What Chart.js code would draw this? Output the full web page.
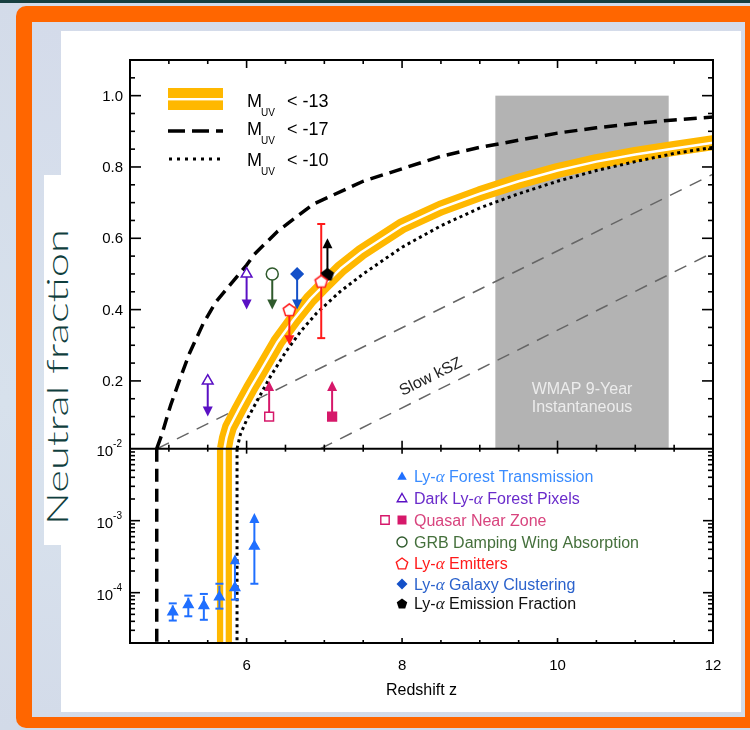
<!DOCTYPE html>
<html>
<head>
<meta charset="utf-8">
<title>Neutral fraction vs redshift</title>
<script src="https://cdn.jsdelivr.net/npm/chart.js@4.4.1/dist/chart.umd.min.js"></script>
<style>
  html, body { margin:0; padding:0; }
  body { width:750px; height:730px; overflow:hidden; position:relative;
         background:linear-gradient(180deg,#d3dbe9 0%,#d7e1ec 55%,#d2dae8 100%); }
  #topbar { position:absolute; left:0; top:0; width:750px; height:3px; background:#173f40; }
  #frame { position:absolute; left:16px; top:6px; width:760px; height:722px; background:#ff6600; border-radius:10px; }
  #inner { position:absolute; left:32px; top:22px; width:713px; height:695px;
           background:linear-gradient(180deg,#d4dbea 0%,#d9e3ee 60%,#d3dbe9 100%); }
  #sheet { position:absolute; left:61px; top:31px; width:680px; height:681px; background:#fff; }
  #tab { position:absolute; left:44px; top:175px; width:17px; height:370px; background:#fff; }
  #ylab { position:absolute; left:56px; top:377px; transform:translate(-50%,-50%) rotate(-90deg) scaleX(1.45);
          white-space:nowrap; font:300 30px Lato, "Open Sans", sans-serif; color:#0f3e3d; }
  #c { position:absolute; left:61px; top:31px; }
</style>
</head>
<body>
<div id="topbar"></div>
<div id="frame"></div>
<div id="inner"></div>
<div id="sheet"></div>
<div id="tab"></div>
<div id="ylab">Neutral fraction</div>
<canvas id="c" width="680" height="681"></canvas>
<script>
// ---------------- axes -----------------------------------------------------
const zMin = 4.5, zMax = 12;
const zLabelTicks = [6, 8, 10, 12];
const linLabelTicks = [0.2, 0.4, 0.6, 0.8, 1.0];
const logLabelTicks = [1e-2, 1e-3, 1e-4];
const logLabelExps = ['-2', '-3', '-4'];

// ---------------- model reionization histories ----------------------------
// M_UV < -13 (shaded band)
const m13Z = [5.715, 5.74, 5.78, 5.9, 6.05, 6.2, 6.4, 6.6, 6.82, 7.0, 7.21, 7.47, 8.0, 8.5, 9.0, 9.5, 10.0, 10.5, 11.0, 11.5, 12.0];
const m13Q = [0.01, 0.04, 0.07, 0.12, 0.18, 0.235, 0.31, 0.37, 0.43, 0.47, 0.515, 0.56, 0.635, 0.685, 0.725, 0.76, 0.79, 0.815, 0.835, 0.852, 0.868];
const m13LowZ = [5.715, 5.715];
const m13LowQ = [0.0102, 1e-5];
// M_UV < -17 (dashed)
const m17Z = [4.844, 4.91, 5.02, 5.15, 5.27, 5.44, 5.6, 5.79, 6.0, 6.1, 6.4, 6.86, 7.5, 8.0, 8.5, 9.0, 9.5, 10.0, 10.5, 11.0, 11.5, 12.0];
const m17Q = [0.01, 0.05, 0.13, 0.21, 0.28, 0.36, 0.42, 0.47, 0.525, 0.555, 0.62, 0.696, 0.76, 0.795, 0.83, 0.855, 0.875, 0.895, 0.91, 0.922, 0.932, 0.94];
const m17LowZ = [4.844, 4.844];
const m17LowQ = [0.01, 1e-5];
// M_UV < -10 (dotted)
const m10Z = [5.877, 5.92, 6.0, 6.15, 6.3, 6.5, 6.7, 6.9, 7.2, 7.5, 8.0, 8.5, 9.0, 9.5, 10.0, 10.5, 11.0, 11.5, 12.0];
const m10Q = [0.01, 0.05, 0.09, 0.15, 0.21, 0.28, 0.34, 0.39, 0.45, 0.5, 0.575, 0.635, 0.685, 0.725, 0.76, 0.79, 0.815, 0.838, 0.855];
const m10LowZ = [5.877, 5.877];
const m10LowQ = [0.01, 1e-5];

// slow kSZ bounds
const kszAZ = [4.85, 12], kszAQ = [0.01, 0.78];
const kszBZ = [6.95, 12], kszBQ = [0.01, 0.56];

// WMAP 9-year instantaneous reionization range
const wmapZ = [9.2, 11.43];
const wmapQ = [0.01, 1.0];

// ---------------- observational constraints -------------------------------
const forestZ  = [5.05, 5.25, 5.45, 5.65, 5.85, 6.10];
const forestQ  = [5.4e-5, 6.8e-5, 6.6e-5, 8.7e-5, 1.17e-4, 4.4e-4];
const forestHi = [7.1e-5, 9.1e-5, 9.6e-5, 1.33e-4, 3.2e-4, 1.2e-3];
const forestLo = [4.1e-5, 4.7e-5, 4.2e-5, 6.0e-5, 8.0e-5, 1.33e-4];

const darkPixZ = [5.5, 6.0];
const darkPixQ = [0.20, 0.50];
const darkPixLim = [0.10, 0.40];

const qsoOpenZ = [6.29], qsoOpenQ = [0.10], qsoOpenLim = [0.20];
const qsoFillZ = [7.1],  qsoFillQ = [0.10], qsoFillLim = [0.20];

const grbZ = [6.33], grbQ = [0.50], grbLim = [0.40];

const laeZ = [6.55, 6.96];
const laeQ = [0.40, 0.48];
const laeLim = [0.30, null];
const laeLo = [null, 0.32];
const laeHi = [null, 0.64];

const clusterZ = [6.65], clusterQ = [0.50], clusterLim = [0.40];

const emFracZ = [7.04], emFracQ = [0.50], emFracLim = [0.60];

const legendNames = ['Forest Transmission', 'Dark Ly-', 'Quasar Near Zone', 'GRB Damping Wing Absorption', 'Emitters', 'Galaxy Clustering', 'Emission Fraction'];

// ---------------- styling -------------------------------------------------
const SANS = '"Liberation Sans", Arial, Helvetica, sans-serif';
const ORANGE = '#ffb800';
const C_FOREST = '#1f6fff', T_FOREST = '#3a8cff';
const C_PURPLE = '#5a10c4', T_PURPLE = '#6a2ccb';
const C_QSO = '#d6186a', T_QSO = '#d8447e';
const C_GRB = '#2f5a2c', T_GRB = '#45703c';
const C_LAE = '#ff1a1a';
const C_CLUS = '#1450c8', T_CLUS = '#2b62cc';
const C_EMF = '#000000';

function pts(xs, ys) { return xs.map((x, i) => ({ x, y: ys[i] })); }

function shapePath(ctx, kind, x, y, r) {
  ctx.beginPath();
  if (kind === 'triangle' || kind === 'pentagon') {
    const n = kind === 'triangle' ? 3 : 5;
    for (let i = 0; i < n; i++) {
      const a = -Math.PI / 2 + i * 2 * Math.PI / n;
      const px = x + r * Math.cos(a), py = y + r * Math.sin(a);
      if (i) ctx.lineTo(px, py); else ctx.moveTo(px, py);
    }
    ctx.closePath();
  } else if (kind === 'square') {
    ctx.rect(x - r, y - r, 2 * r, 2 * r);
  } else if (kind === 'diamond') {
    ctx.moveTo(x, y - r); ctx.lineTo(x + r, y); ctx.lineTo(x, y + r); ctx.lineTo(x - r, y); ctx.closePath();
  } else {
    ctx.arc(x, y, r, 0, Math.PI * 2);
  }
}
function shape(ctx, kind, x, y, r, stroke, fill, lw) {
  shapePath(ctx, kind, x, y, r);
  if (fill) { ctx.fillStyle = fill; ctx.fill(); }
  if (stroke) { ctx.lineWidth = lw || 1.5; ctx.strokeStyle = stroke; ctx.stroke(); }
}
function sprite(kind, r, stroke, fill) {
  const s = Math.ceil(2 * r + 4);
  const cv = document.createElement('canvas');
  cv.width = s; cv.height = s;
  shape(cv.getContext('2d'), kind, s / 2, s / 2 + (kind === 'pentagon' ? 0.8 : 0), r, stroke, fill, 1.5);
  return cv;
}

function curve(xs, ys, axis, color, width, dash, order, extra) {
  return Object.assign({
    data: pts(xs, ys), yAxisID: axis, showLine: true,
    borderColor: color, backgroundColor: color, borderWidth: width, borderDash: dash || [],
    pointRadius: 0, pointHoverRadius: 0, tension: 0, fill: false, order,
    borderJoinStyle: 'round', borderCapStyle: 'butt'
  }, extra || {});
}
function marks(xs, ys, axis, style, radius, fill, stroke, order) {
  return {
    data: pts(xs, ys), yAxisID: axis, showLine: false,
    pointStyle: style, pointRadius: radius, pointHoverRadius: radius,
    pointBackgroundColor: fill, pointBorderColor: stroke, pointBorderWidth: 1.5, order
  };
}

const DASH = [13, 7], DOT = [3, 3.5], KSZ = [13, 9];

const datasets = [
  curve(kszAZ, kszAQ, 'yLin', '#666', 1.5, KSZ, 30),
  curve(kszBZ, kszBQ, 'yLin', '#666', 1.5, KSZ, 30),
  curve(m17Z, m17Q, 'yLin', '#000', 3.5, DASH, 25),
  curve(m17LowZ, m17LowQ, 'yLog', '#000', 3.5, DASH, 25),
  curve(m13Z, m13Q, 'yLin', ORANGE, 15, null, 22),
  curve(m13LowZ, m13LowQ, 'yLog', ORANGE, 15, null, 22),
  curve(m13Z, m13Q, 'yLin', '#ffffff', 2.5, null, 21),
  curve(m13LowZ, m13LowQ, 'yLog', '#ffffff', 2.5, null, 21),
  curve(m10LowZ, m10LowQ, 'yLog', '#000', 3, DOT, 20),
  curve(m10Z, m10Q, 'yLin', '#000', 3, DOT, 19, { guidesAfter: true }),
  marks(forestZ, forestQ, 'yLog', 'triangle', 5.5, C_FOREST, C_FOREST, 5),
  marks(darkPixZ, darkPixQ, 'yLin', 'triangle', 6.2, '#ffffff', C_PURPLE, 5),
  marks(qsoOpenZ, qsoOpenQ, 'yLin', 'rect', 6.2, '#ffffff', C_QSO, 5),
  marks(qsoFillZ, qsoFillQ, 'yLin', 'rect', 6.2, C_QSO, C_QSO, 5),
  marks(grbZ, grbQ, 'yLin', 'circle', 6, '#ffffff', C_GRB, 5),
  marks(laeZ, laeQ, 'yLin', sprite('pentagon', 6.5, C_LAE, '#ffffff'), 6, C_LAE, C_LAE, 5),
  marks(clusterZ, clusterQ, 'yLin', 'rectRot', 6, C_CLUS, C_CLUS, 5),
  marks(emFracZ, emFracQ, 'yLin', sprite('pentagon', 6, C_EMF, C_EMF), 6, C_EMF, C_EMF, 5)
];

// ---------------- drawing helpers -----------------------------------------
function seg(ctx, x0, y0, x1, y1) { ctx.beginPath(); ctx.moveTo(x0, y0); ctx.lineTo(x1, y1); ctx.stroke(); }

function arrow(ctx, x, y0, y1, color, w, h) {
  const dir = Math.sign(y1 - y0);
  ctx.strokeStyle = color; ctx.fillStyle = color; ctx.lineWidth = 2;
  seg(ctx, x, y0, x, y1 - dir * h * 0.7);
  ctx.beginPath();
  ctx.moveTo(x, y1); ctx.lineTo(x - w / 2, y1 - dir * h); ctx.lineTo(x + w / 2, y1 - dir * h);
  ctx.closePath(); ctx.fill();
}
function limitArrows(ctx, zs, qs, lims, color, X, Y) {
  zs.forEach((z, i) => {
    if (lims[i] == null) return;
    arrow(ctx, X(z), Y(qs[i]), Y(lims[i]), color, 10, 10);
  });
}

function drawGuides(chart) {
  const { ctx, scales: { x, yLin, yLog } } = chart;
  const X = v => x.getPixelForValue(v);
  const L = v => yLin.getPixelForValue(v);
  const G = v => yLog.getPixelForValue(v);
  ctx.save();
  limitArrows(ctx, darkPixZ, darkPixQ, darkPixLim, C_PURPLE, X, L);
  limitArrows(ctx, grbZ, grbQ, grbLim, C_GRB, X, L);
  limitArrows(ctx, clusterZ, clusterQ, clusterLim, C_CLUS, X, L);
  limitArrows(ctx, laeZ, laeQ, laeLim, C_LAE, X, L);
  limitArrows(ctx, emFracZ, emFracQ, emFracLim, C_EMF, X, L);
  limitArrows(ctx, qsoOpenZ, qsoOpenQ, qsoOpenLim, C_QSO, X, L);
  limitArrows(ctx, qsoFillZ, qsoFillQ, qsoFillLim, C_QSO, X, L);
  // Ly-alpha emitter range
  ctx.strokeStyle = C_LAE; ctx.lineWidth = 2;
  laeZ.forEach((z, i) => {
    if (laeLo[i] == null) return;
    const px = X(z), a = L(laeHi[i]), b = L(laeLo[i]);
    seg(ctx, px, a, px, b); seg(ctx, px - 4, a, px + 4, a); seg(ctx, px - 4, b, px + 4, b);
  });
  // Ly-alpha forest transmission error bars
  forestZ.forEach((z, i) => {
    const px = X(z), a = G(forestHi[i]), b = G(forestLo[i]);
    ctx.strokeStyle = C_FOREST; ctx.fillStyle = C_FOREST; ctx.lineWidth = 2;
    seg(ctx, px, b, px, a + 2);
    seg(ctx, px - 4, b, px + 4, b);
    if (i >= forestZ.length - 2) {
      ctx.beginPath(); ctx.moveTo(px, a - 2); ctx.lineTo(px - 5, a + 8); ctx.lineTo(px + 5, a + 8); ctx.closePath(); ctx.fill();
    } else {
      seg(ctx, px - 4, a, px + 4, a);
    }
  });
  ctx.restore();
}

function textRuns(ctx, x, y, parts) {
  for (const [t, f, c] of parts) {
    ctx.font = f; if (c) ctx.fillStyle = c;
    ctx.fillText(t, x, y);
    x += ctx.measureText(t).width;
  }
  return x;
}

function drawFrame(chart) {
  const { ctx, chartArea: a, scales: { x, yLin, yLog } } = chart;
  const yDiv = yLog.top;
  ctx.save();
  ctx.strokeStyle = '#000'; ctx.lineWidth = 2; ctx.lineCap = 'butt';
  ctx.strokeRect(a.left, a.top, a.right - a.left, a.bottom - a.top);
  seg(ctx, a.left, yDiv, a.right, yDiv);
  ctx.lineWidth = 1.6;
  // redshift ticks
  for (let k = 1; k < (zMax - zMin) / 0.5; k++) {
    const z = zMin + k * 0.5;
    const px = x.getPixelForValue(z);
    const major = zLabelTicks.includes(z);
    seg(ctx, px, a.top, px, a.top + (major ? 8 : 4));
    seg(ctx, px, yDiv, px, yDiv - (major ? 8 : 4));
    seg(ctx, px, yDiv, px, yDiv + (major ? 5 : 3));
    seg(ctx, px, a.bottom, px, a.bottom - (major ? 5 : 3));
  }
  // linear neutral fraction ticks
  for (let k = 1; k <= 21; k++) {
    const v = k * 0.05;
    const py = yLin.getPixelForValue(v);
    const len = (k % 4 === 0) ? 11 : 5;
    seg(ctx, a.left, py, a.left + len, py);
    seg(ctx, a.right, py, a.right - len, py);
  }
  // logarithmic ticks
  for (let e = -5; e <= -3; e++) {
    for (let m = 1; m <= 9; m++) {
      const v = m * Math.pow(10, e);
      if (v < yLog.min * 0.999 || v > yLog.max * 0.999) continue;
      const py = yLog.getPixelForValue(v);
      const len = m === 1 ? 10 : 5;
      seg(ctx, a.left, py, a.left + len, py);
      seg(ctx, a.right, py, a.right - len, py);
    }
  }
  // tick labels
  ctx.fillStyle = '#000';
  ctx.font = '15px ' + SANS;
  ctx.textBaseline = 'middle';
  ctx.textAlign = 'right';
  linLabelTicks.forEach(v => ctx.fillText(v.toFixed(1), a.left - 7, yLin.getPixelForValue(v) + 1));
  logLabelTicks.forEach((v, i) => {
    const py = yLog.getPixelForValue(v);
    ctx.font = '10px ' + SANS; ctx.textAlign = 'right';
    ctx.fillText(logLabelExps[i], a.left - 8, py - 4);
    const w = ctx.measureText(logLabelExps[i]).width;
    ctx.font = '15px ' + SANS;
    ctx.fillText('10', a.left - 8 - w, py + 3);
  });
  ctx.textAlign = 'center';
  zLabelTicks.forEach(z => ctx.fillText(String(z), x.getPixelForValue(z), a.bottom + 23));
  ctx.font = '16px ' + SANS;
  ctx.fillText('Redshift z', (a.left + a.right) / 2, a.bottom + 48);
  ctx.restore();
}

function drawWmap(chart) {
  const { ctx, scales: { x, yLin } } = chart;
  const x0 = x.getPixelForValue(wmapZ[0]), x1 = x.getPixelForValue(wmapZ[1]);
  const y0 = yLin.getPixelForValue(wmapQ[1]), y1 = yLin.getPixelForValue(wmapQ[0]);
  ctx.save();
  ctx.fillStyle = '#b3b3b3';
  ctx.fillRect(x0, y0, x1 - x0, y1 - y0);
  ctx.fillStyle = '#ececec';
  ctx.font = '16px ' + SANS; ctx.textAlign = 'center'; ctx.textBaseline = 'middle';
  ctx.fillText('WMAP 9-Year', (x0 + x1) / 2, 359);
  ctx.fillText('Instantaneous', (x0 + x1) / 2, 377);
  ctx.restore();
}

function drawLabels(chart) {
  const { ctx, scales: { x, yLin } } = chart;
  ctx.save();
  // slow kSZ label, aligned with the kSZ bounds
  const ang = Math.atan2(yLin.getPixelForValue(kszAQ[1]) - yLin.getPixelForValue(kszAQ[0]),
                         x.getPixelForValue(kszAZ[1]) - x.getPixelForValue(kszAZ[0]));
  ctx.translate(x.getPixelForValue(8.37), yLin.getPixelForValue(0.211));
  ctx.rotate(ang);
  ctx.fillStyle = '#222'; ctx.font = '16px ' + SANS; ctx.textAlign = 'center'; ctx.textBaseline = 'middle';
  ctx.fillText('Slow kSZ', 0, 0);
  ctx.restore();

  // model legend
  ctx.save();
  ctx.fillStyle = ORANGE; ctx.fillRect(107, 57, 55, 22);
  ctx.fillStyle = '#fff'; ctx.fillRect(107, 67, 55, 2.4);
  ctx.strokeStyle = '#000'; ctx.lineWidth = 3.5; ctx.setLineDash([17, 7]);
  seg(ctx, 107, 100, 162, 100);
  ctx.lineWidth = 3; ctx.setLineDash([3, 5]);
  seg(ctx, 108, 128, 162, 128);
  ctx.setLineDash([]);
  ctx.fillStyle = '#000'; ctx.textBaseline = 'alphabetic'; ctx.textAlign = 'left';
  [['-13', 76], ['-17', 104], ['-10', 135]].forEach(([lim, by]) => {
    ctx.font = '18px ' + SANS; ctx.fillText('M', 186, by);
    ctx.font = '10px ' + SANS; ctx.fillText('UV', 200, by + 9);
    ctx.font = '18px ' + SANS; ctx.fillText('< ' + lim, 226, by);
  });
  ctx.restore();

  // observations legend
  ctx.save();
  const mx = 341, tx = 353;
  const rows = [445, 467, 489, 511, 532, 553, 572];
  const F = '16px ' + SANS, FA = 'italic 17px "Liberation Serif", "DejaVu Serif", serif';
  ctx.textBaseline = 'alphabetic'; ctx.textAlign = 'left';
  shape(ctx, 'triangle', mx, rows[0] + 1, 5.5, null, C_FOREST);
  textRuns(ctx, tx, rows[0] + 6, [['Ly-', F, T_FOREST], ['\u03b1', FA], [' ' + legendNames[0], F]]);
  shape(ctx, 'triangle', mx, rows[1] + 1, 5.5, C_PURPLE, '#fff', 1.4);
  textRuns(ctx, tx, rows[1] + 6, [[legendNames[1], F, T_PURPLE], ['\u03b1', FA], [' Forest Pixels', F]]);
  shape(ctx, 'square', mx - 17, rows[2], 4.2, C_QSO, '#fff', 1.4);
  shape(ctx, 'square', mx, rows[2], 4.5, null, C_QSO);
  textRuns(ctx, tx, rows[2] + 6, [[legendNames[2], F, T_QSO]]);
  shape(ctx, 'circle', mx, rows[3], 5, C_GRB, '#fff', 1.4);
  textRuns(ctx, tx, rows[3] + 6, [[legendNames[3], F, T_GRB]]);
  shape(ctx, 'pentagon', mx, rows[4] + 1, 6, C_LAE, '#fff', 1.4);
  textRuns(ctx, tx, rows[4] + 6, [['Ly-', F, C_LAE], ['\u03b1', FA], [' ' + legendNames[4], F]]);
  shape(ctx, 'diamond', mx, rows[5], 5.5, null, C_CLUS);
  textRuns(ctx, tx, rows[5] + 6, [['Ly-', F, T_CLUS], ['\u03b1', FA], [' ' + legendNames[5], F]]);
  shape(ctx, 'pentagon', mx, rows[6] + 1, 5.5, null, C_EMF);
  textRuns(ctx, tx, rows[6] + 6, [['Ly-', F, '#111'], ['\u03b1', FA], [' ' + legendNames[6], F]]);
  ctx.restore();
}

const decor = {
  id: 'decor',
  beforeDatasetsDraw(chart) { drawWmap(chart); },
  afterDatasetDraw(chart, args) {
    if (chart.data.datasets[args.index].guidesAfter) drawGuides(chart);
  },
  afterDraw(chart) { drawFrame(chart); drawLabels(chart); }
};

new Chart(document.getElementById('c'), {
  type: 'scatter',
  data: { datasets },
  options: {
    responsive: false, animation: false, devicePixelRatio: 1, events: [],
    layout: { padding: { left: 0, top: 29, right: 28, bottom: 0 } },
    plugins: { legend: { display: false }, tooltip: { enabled: false }, title: { display: false } },
    scales: {
      x: { type: 'linear', min: zMin, max: zMax, afterFit(s) { s.height = 69; },
           ticks: { display: false }, grid: { display: false }, border: { display: false } },
      yLog: { type: 'logarithmic', position: 'left', stack: 'frac', stackWeight: 1, min: 2e-5, max: 1e-2,
              afterFit(s) { s.width = 69; },
              ticks: { display: false }, grid: { display: false }, border: { display: false } },
      yLin: { type: 'linear', position: 'left', stack: 'frac', stackWeight: 2, min: 0.01, max: 1.1,
              afterFit(s) { s.width = 69; },
              ticks: { display: false }, grid: { display: false }, border: { display: false } }
    }
  },
  plugins: [decor]
});
</script>
</body>
</html>
